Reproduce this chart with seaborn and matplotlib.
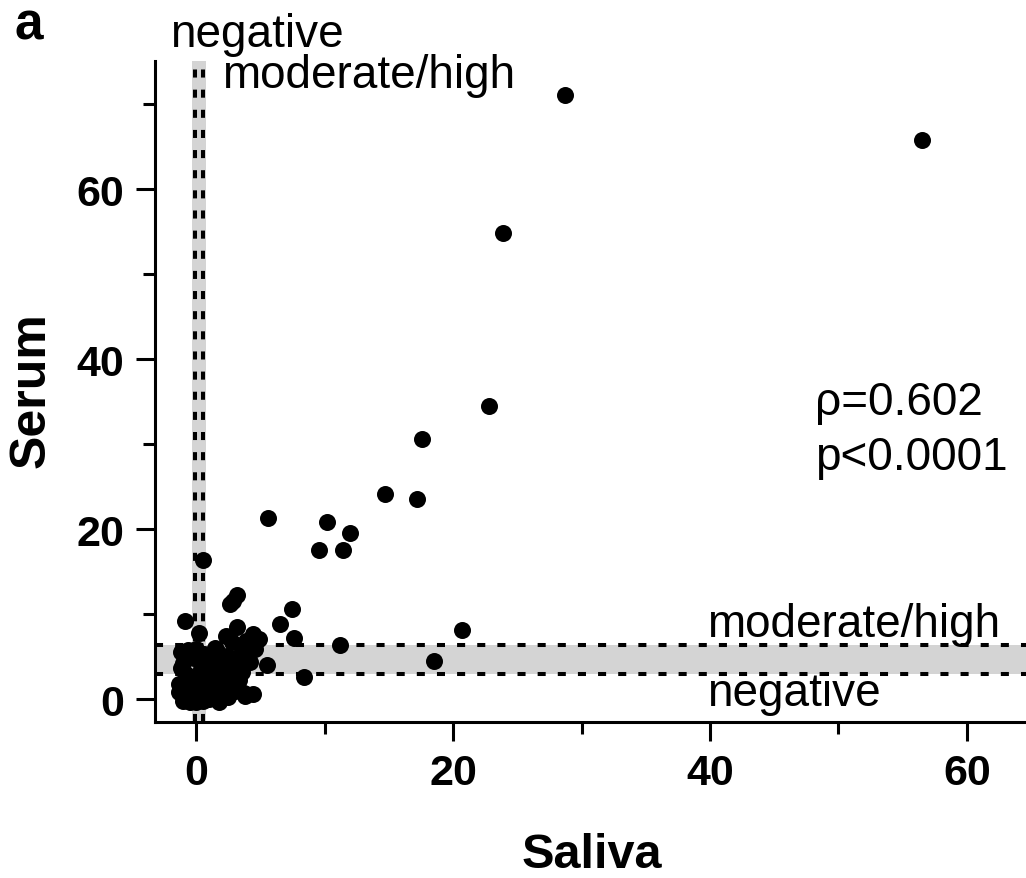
import numpy as np
import pandas as pd
import matplotlib
matplotlib.use("Agg")
import matplotlib.pyplot as plt
import seaborn as sns

# values (saliva vs serum)
saliva = [28.7, 56.5, 23.9, 22.8, 17.6, 14.7, 17.2, 5.6, 10.2, 12.0, 9.6, 11.4,
          0.5, 3.2, 2.6, 2.9, 7.5, 6.5, 7.6, -0.9, 0.2, 11.2, 20.7, 18.5, 8.4,
          4.4, 5.5, 3.7,
          3.2, 4.4, 4.9, 2.8, 3.6, 4.6, 2.4, 3.6, 2.8, 1.8, 1.2, 3.9, 4.2, 2.2,
          3.0, 3.8, 1.5, 1.0, 0.6, -1.2, -1.0, -0.8, -1.3, -1.3, -1.0, -0.5,
          0.0, 0.5, 1.0, -0.3, 0.2, 0.4, -0.2, 0.0, -0.6, 1.5, 2.0, 2.5, 1.8,
          0.8, -0.4, 1.3, 2.1, 2.6, 3.3, 1.6, -1.2, 0.1, 2.3, 3.4]
serum = [71.1, 65.8, 54.8, 34.5, 30.6, 24.1, 23.6, 21.3, 20.8, 19.5, 17.5, 17.5,
         16.4, 12.2, 11.2, 11.6, 10.6, 8.8, 7.2, 9.2, 7.8, 6.4, 8.1, 4.5, 2.6,
         0.6, 4.0, 0.7,
         8.5, 7.6, 7.1, 6.7, 5.7, 5.9, 5.1, 3.2, 3.9, 3.9, 4.7, 6.8, 4.4, 2.0,
         1.0, 0.4, 0.8, 2.5, 5.3, 5.5, 4.3, 3.0, 1.8, 0.8, -0.2, -0.4,
         -0.4, -0.2, 0.0, 1.0, 2.0, 3.5, 4.8, 5.9, 5.8, 6.0, 1.5, 0.2, -0.3,
         1.2, 2.6, 3.3, 4.6, 2.8, 2.2, 5.6, 3.6, 0.3, 7.4, 4.9]

saliva_cut = [-0.1, 0.57]   # negative / moderate-high cutoffs
serum_cut = [2.9, 6.4]
stats_lines = ["\u03c1=0.602", "p<0.0001"]

df = pd.DataFrame({"Saliva": saliva, "Serum": serum})

sns.set_style("ticks")
plt.rcParams["font.family"] = ["Liberation Sans", "DejaVu Sans"]
plt.rcParams["text.color"] = "black"
plt.rcParams["xtick.color"] = "black"
plt.rcParams["ytick.color"] = "black"
plt.rcParams["axes.edgecolor"] = "black"

W, H = 1026, 879
fig = plt.figure(figsize=(W / 100, H / 100), dpi=100)


def px(x, y):
    return x / W, 1 - y / H


ax = fig.add_axes([155 / W, (H - 723) / H, (W - 155) / W, (723 - 62) / H])

# grey bands + dotted cutoff lines
ax.axvspan(-0.3, 0.8, color="#d4d4d4", lw=0, zorder=0)
ax.axhspan(serum_cut[0], serum_cut[1], color="#d4d4d4", lw=0, zorder=0)
for c in saliva_cut:
    ax.axvline(c, color="black", lw=2.9, ls=(0, (2, 3)), zorder=1)
for c in serum_cut:
    ax.axhline(c, color="black", lw=2.9, ls=(0, (2, 3)), zorder=1)

sns.scatterplot(data=df, x="Saliva", y="Serum", color="black", s=150,
                edgecolor="black", linewidth=0, ax=ax, zorder=3, clip_on=False)

ax.set_xlim(-3.2, 64.6)
ax.set_ylim(-2.7, 75.1)
ax.set_xticks([0, 20, 40, 60])
ax.set_xticks([10, 30, 50], minor=True)
ax.set_yticks([0, 20, 40, 60])
ax.set_yticks([10, 30, 50, 70], minor=True)

for s in ["top", "right"]:
    ax.spines[s].set_visible(False)
for s in ["left", "bottom"]:
    ax.spines[s].set_linewidth(2.2)

ax.tick_params(which="major", direction="out", length=14, width=2.2,
               labelsize=31, pad=8, colors="black")
ax.tick_params(which="minor", direction="out", length=8.5, width=2.2,
               colors="black")
for lab in ax.get_xticklabels() + ax.get_yticklabels():
    lab.set_fontweight("bold")

ax.set_xlabel("")
ax.set_ylabel("")
fig.text(*px(592, 868), "Saliva", fontsize=35, fontweight="bold",
         ha="center", va="baseline")
fig.text(*px(32, 390), "Serum", fontsize=36, fontweight="bold",
         ha="center", va="center", rotation=90)
fig.text(*px(14, 40), "a", fontsize=37, fontweight="bold", va="baseline")

fig.text(*px(170, 47), "negative", fontsize=33, va="baseline")
fig.text(*px(222, 88), "moderate/high", fontsize=33, va="baseline")
fig.text(*px(707, 637), "moderate/high", fontsize=33, va="baseline")
fig.text(*px(707, 706), "negative", fontsize=33, va="baseline")
fig.text(*px(815, 415), stats_lines[0], fontsize=33, va="baseline")
fig.text(*px(815, 470), stats_lines[1], fontsize=33, va="baseline")

fig.savefig("out.png", dpi=100, facecolor="white")
